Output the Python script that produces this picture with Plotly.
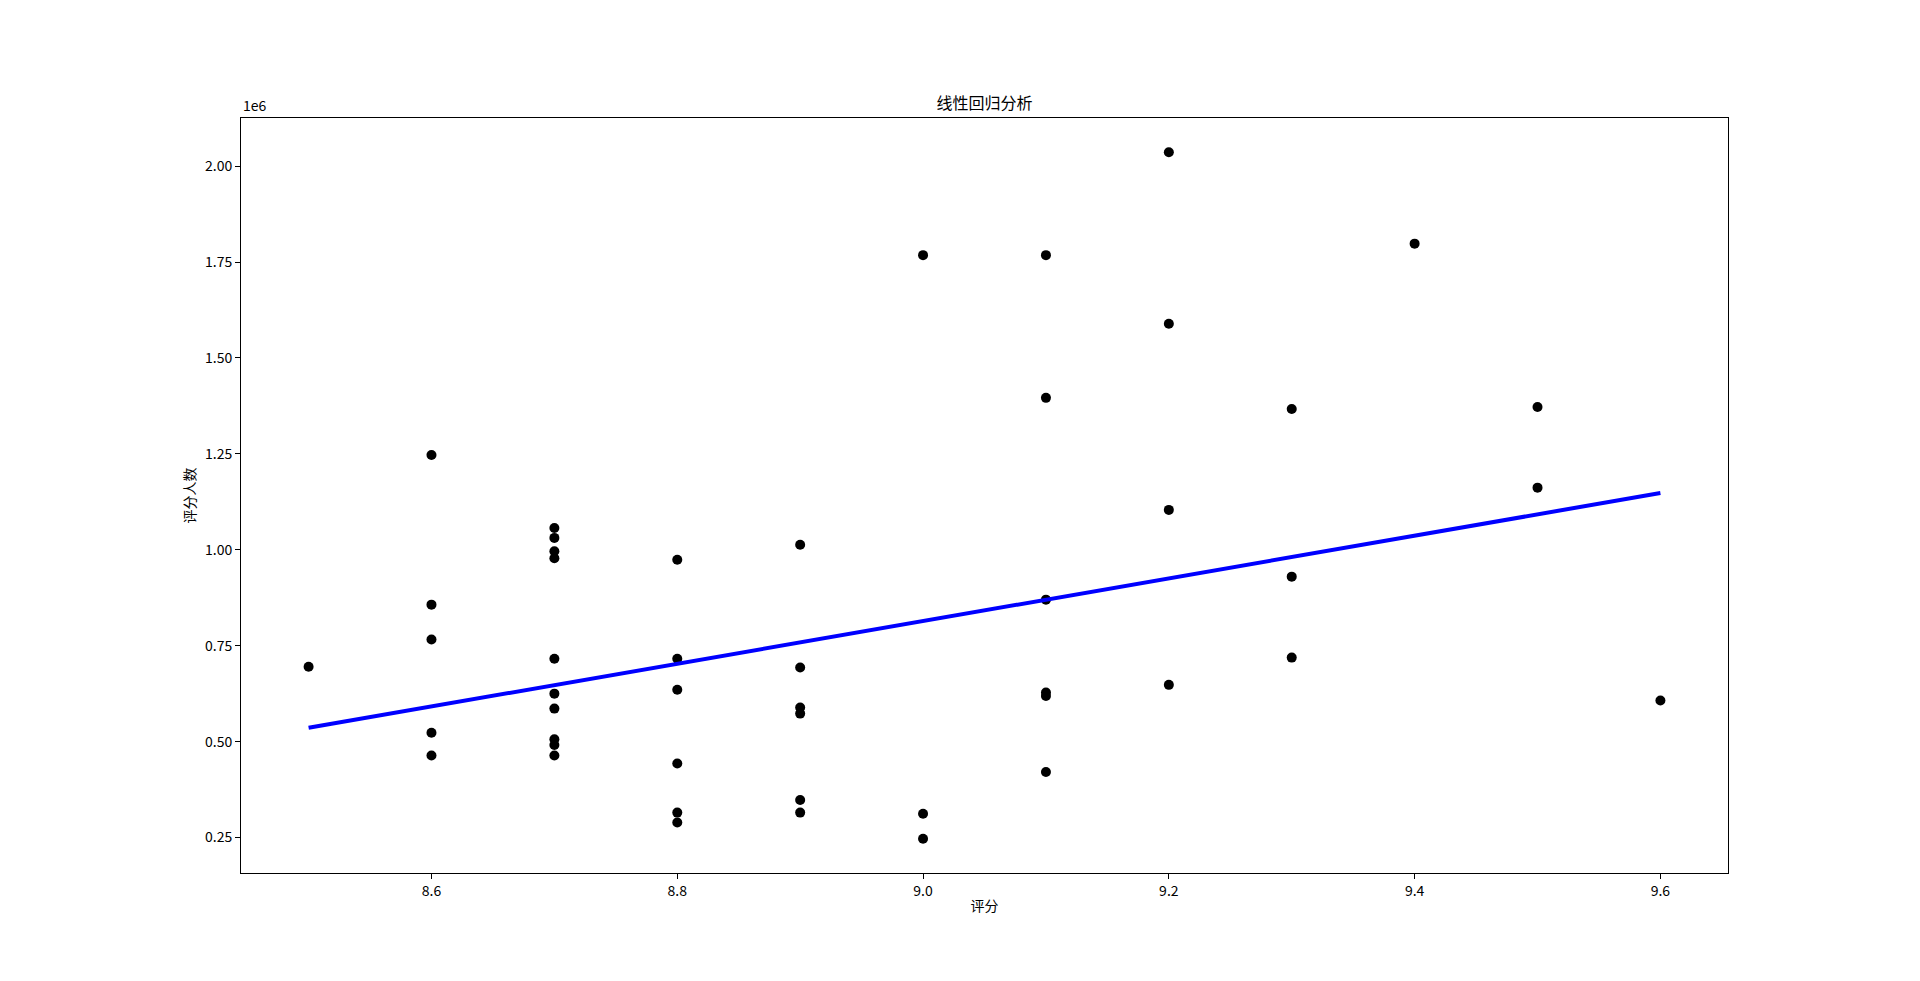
import numpy as np
import plotly.graph_objects as go

# 评分 (rating) and 评分人数 (number of raters)
ratings = [
    8.5,
    8.6, 8.6, 8.6, 8.6, 8.6,
    8.7, 8.7, 8.7, 8.7, 8.7, 8.7, 8.7, 8.7, 8.7, 8.7,
    8.8, 8.8, 8.8, 8.8, 8.8, 8.8,
    8.9, 8.9, 8.9, 8.9, 8.9, 8.9,
    9.0, 9.0, 9.0,
    9.1, 9.1, 9.1, 9.1, 9.1, 9.1,
    9.2, 9.2, 9.2, 9.2,
    9.3, 9.3, 9.3,
    9.4,
    9.5, 9.5,
    9.6,
]
counts = [
    695000,
    1247000, 857000, 766000, 523000, 464000,
    1057000, 1031000, 996000, 978000, 716000, 625000, 586000, 506000, 491000, 464000,
    974000, 716000, 635000, 443000, 315000, 289000,
    1013000, 693000, 589000, 573000, 348000, 315000,
    1768000, 312000, 247000,
    1768000, 1396000, 870000, 628000, 619000, 421000,
    2036000, 1589000, 1104000, 648000,
    1367000, 930000, 719000,
    1798000,
    1372000, 1162000,
    607000,
]

# regression line as drawn in the reference (end points)
fit_x = [8.5, 9.6]
fit_y = [536000, 1148000]

x_tick_vals = [8.6, 8.8, 9.0, 9.2, 9.4, 9.6]
x_tick_text = ["8.6", "8.8", "9.0", "9.2", "9.4", "9.6"]
y_tick_vals = [250000, 500000, 750000, 1000000, 1250000, 1500000, 1750000, 2000000]
y_tick_text = ["0.25", "0.50", "0.75", "1.00", "1.25", "1.50", "1.75", "2.00"]

x = np.array(ratings)
y = np.array(counts)

# matplotlib-like 5% margins
xpad = 0.05 * (x.max() - x.min())
ypad = 0.05 * (y.max() - y.min())

font_family = "Noto Sans CJK SC, DejaVu Sans, sans-serif"

fig = go.Figure()
fig.add_trace(go.Scatter(
    x=x, y=y, mode="markers",
    marker=dict(color="black", size=10, line=dict(width=0)),
    showlegend=False, hoverinfo="x+y",
))
fig.add_trace(go.Scatter(
    x=fit_x, y=fit_y, mode="lines",
    line=dict(color="blue", width=4),
    showlegend=False,
))

axis_common = dict(
    showline=True, linecolor="black", linewidth=1, mirror=True,
    showgrid=False, zeroline=False,
    ticks="outside", ticklen=5, tickwidth=1, tickcolor="black",
    tickfont=dict(family=font_family, size=14, color="black"),
)

fig.update_layout(
    width=1920, height=981, autosize=False,
    margin=dict(l=241, r=192, t=118, b=108),
    paper_bgcolor="white", plot_bgcolor="white",
    font=dict(family=font_family, color="black"),
    title=dict(
        text="线性回归分析", x=0.5, xref="paper", xanchor="center",
        y=1 - 103 / 981, yref="container", yanchor="middle",
        font=dict(family=font_family, size=16, color="black"),
    ),
    xaxis=dict(
        range=[x.min() - xpad, x.max() + xpad],
        tickvals=x_tick_vals, ticktext=x_tick_text,
        title=dict(text="评分", standoff=2,
                   font=dict(family=font_family, size=14, color="black")),
        **axis_common,
    ),
    yaxis=dict(
        range=[y.min() - ypad, y.max() + ypad],
        tickvals=y_tick_vals, ticktext=y_tick_text,
        title=dict(text="评分人数", standoff=6,
                   font=dict(family=font_family, size=14, color="black")),
        **axis_common,
    ),
    annotations=[dict(
        text="1e6", xref="paper", yref="paper", x=0, y=1,
        xanchor="left", yanchor="bottom", showarrow=False, yshift=1,
        font=dict(family=font_family, size=14, color="black"),
    )],
)

fig.write_html(
    "out.html",
    config={"displayModeBar": False},
    post_script="document.body.style.margin='0px';",
)
